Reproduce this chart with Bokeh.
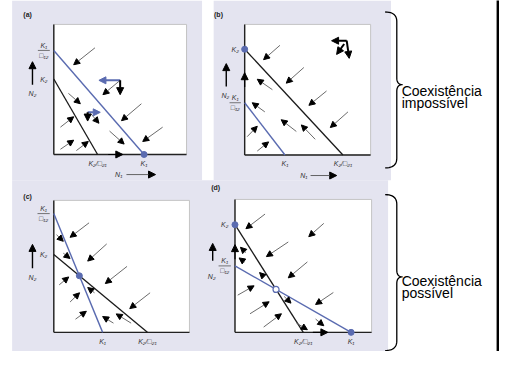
import numpy as np
from bokeh.plotting import figure
from bokeh.models import Range1d, ColumnDataSource, Arrow, NormalHead
from bokeh.embed import file_html
from bokeh.resources import INLINE
from bokeh.core.properties import value

# ---------------- data (axis units 0-100 in every panel) ----------------
PANELS = ["a", "b", "c", "d"]
K1_over_a12 = [80, 40, 90, 50]   # N1 isocline, y intercept
K1 = [68, 32, 36, 85]            # N1 isocline, x intercept
K2 = [58, 81, 59, 81]            # N2 isocline, y intercept
K2_over_a21 = [33, 78, 69, 50]   # N2 isocline, x intercept

# trajectory arrows (x0, y0, x1, y1)
field_a = [(31, 82, 15, 69), (11, 47, 20, 39), (66, 39, 51, 26), (5, 21, 15, 29),
           (82, 21, 67, 10), (42, 18, 53, 8), (5, 4, 15, 11), (17, 3, 26, 10),
           (50, 57, 37, 46), (27.7, 31.6, 34, 24)]
field_b = [(28, 84, 15, 73), (47, 67, 33, 55), (65, 49, 51, 38), (82, 33, 68, 21),
           (22, 50, 10, 58), (16, 33, 6, 40), (41, 18, 29, 27), (56, 12, 45, 23),
           (2, 14, 10, 22), (10, 3, 19, 10)]
field_c = [(26, 83, 12, 72), (39, 67, 25, 54), (54, 50, 38, 37), (71, 30, 56, 18),
           (2, 74, 7, 69), (7, 60, 12, 56), (4, 36, 11, 42), (12, 23, 19, 30),
           (30, 30, 25, 34), (16, 10, 24, 16), (44, 7, 36, 12), (57, 7, 46, 14)]
field_d = [(22, 89, 8, 78), (65, 82, 54, 72), (39, 68, 23, 57), (53, 53, 39, 41),
           (72, 30, 59, 21), (8, 60, 4, 64), (7, 53, 3, 56), (21, 42, 18, 45),
           (2, 28, 14, 35), (11, 14, 25, 23), (21, 4, 34, 14), (36, 27, 41, 22),
           (45, 7, 53, 2), (59, 10, 65, 5)]
FIELDS = [field_a, field_b, field_c, field_d]
# arrowheads lying on the axes
axis_heads = {"a": [(41, 0, 52, 0)], "b": [(0, 52, 0, 63)], "c": [],
              "d": [(0, 55, 0, 66), (57, 0, 68, 0)]}
# vector decompositions: blue (dN1) and black (dN2) components
blue_comp = {"a": [(50, 57, 34, 57), (25.5, 32.4, 35, 32.4)]}
black_comp = {"a": [(50, 57, 50, 46), (25.5, 32.4, 25.5, 25.7)],
              "b": [(81, 87.5, 69, 87.5), (81, 87.5, 83, 74), (79, 85, 73, 77)]}

LABELS = ["(a)", "(b)", "(c)", "(d)"]
GROUP_TEXT = [["Coexistência", "impossível"], ["Coexistência", "possível"]]

# ---------------- layout (reference canvas 515 x 367) ----------------
REF_W, REF_H = 515, 367
W, H = 499, 351
BOX = {"a": (55, 192, 25, 161), "b": (252, 382, 25, 161.5),
       "c": (55, 195, 209, 347), "d": (242, 383, 208, 347)}
LABEL_POS = {"a": (28, 15), "b": (225, 15), "c": (28, 205), "d": (222, 196)}
LAV = "#e4e4f0"
BLUE = "#5a6bb0"
FONT = value("Liberation Sans")

p = figure(width=W, height=H, x_range=Range1d(0, REF_W), y_range=Range1d(REF_H, 0),
           x_axis_type=None, y_axis_type=None, toolbar_location=None,
           output_backend="svg", min_border=0, outline_line_color=None,
           background_fill_color="white", border_fill_color="white")

# lavender backgrounds
p.quad(left=[12, 220, 12], right=[208, 403, 400], top=[0, 0, 188], bottom=[188, 188, 367],
       fill_color=LAV, line_color=None)

# right black bar
p.quad(left=[512], right=[516], top=[-1], bottom=[368], fill_color="black", line_color=None)


def add_arrows(rows, xr, yr, line_color, head_color, lw, hs):
    if not rows:
        return
    r = np.array(rows, dtype=float)
    src = ColumnDataSource(dict(x0=r[:, 0], y0=r[:, 1], x1=r[:, 2], y1=r[:, 3]))
    p.add_layout(Arrow(x_start="x0", y_start="y0", x_end="x1", y_end="y1", source=src,
                       line_color=line_color, line_width=lw,
                       end=NormalHead(size=hs, fill_color=head_color, line_color=head_color),
                       x_range_name=xr, y_range_name=yr))


for i, k in enumerate(PANELS):
    x0, x1, yt, yb = BOX[k]
    sx = (x1 - x0) / 100.0
    sy = (yb - yt) / 100.0
    xr, yr = k + "x", k + "y"
    p.extra_x_ranges[xr] = Range1d(start=-x0 / sx, end=(REF_W - x0) / sx)
    p.extra_y_ranges[yr] = Range1d(start=(yb - REF_H) / sy, end=yb / sy)
    kw = dict(x_range_name=xr, y_range_name=yr)

    # plot box
    p.quad(left=[0], right=[100], bottom=[0], top=[100], fill_color="white",
           line_color="#c4c4c4", line_width=1, **kw)
    p.segment(x0=[0, 0], y0=[0, 0], x1=[0, 100], y1=[100, 0], line_color="#222222",
              line_width=1.4, **kw)

    # isoclines
    p.segment(x0=[0], y0=[K2[i]], x1=[K2_over_a21[i]], y1=[0], line_color="#1a1a1a",
              line_width=1.3, **kw)
    p.segment(x0=[0], y0=[K1_over_a12[i]], x1=[K1[i]], y1=[0], line_color=BLUE,
              line_width=1.4, **kw)

    # field arrows
    add_arrows(FIELDS[i], xr, yr, "#5a5a5a", "black", 0.9, 6)
    add_arrows(axis_heads[k], xr, yr, "black", "black", 1.2, 7)
    add_arrows(blue_comp.get(k, []), xr, yr, BLUE, BLUE, 2, 7)
    add_arrows(black_comp.get(k, []), xr, yr, "black", "black", 2, 7)

    # equilibria
    a1, a2, b1, b2 = K1_over_a12[i], K1[i], K2[i], K2_over_a21[i]
    m1, m2 = -a1 / a2, -b1 / b2
    xi = (b1 - a1) / (m1 - m2)
    yi = a1 + m1 * xi
    stable_x, stable_y, open_x, open_y = [], [], [], []
    if a1 > b1 and a2 > b2:
        stable_x, stable_y = [a2], [0]
    elif b1 > a1 and b2 > a2:
        stable_x, stable_y = [0], [b1]
    elif a1 > b1 and b2 > a2:
        stable_x, stable_y = [xi], [yi]
    else:
        stable_x, stable_y = [a2, 0], [0, b1]
        open_x, open_y = [xi], [yi]
    p.scatter(stable_x, stable_y, size=6, marker="circle", fill_color=BLUE,
              line_color=BLUE, **kw)
    if open_x:
        p.scatter(open_x, open_y, size=6, marker="circle", fill_color="white",
                  line_color=BLUE, line_width=1.2, **kw)

    # tick labels
    tk = dict(text_font=FONT, text_font_size="7px", text_font_style="italic",
              text_color="#333333", **kw)
    lx = -7.5
    p.text(x=[lx], y=[a1], text=["K₁"], text_align="center", text_baseline="middle",
           y_offset=-5, **tk)
    p.text(x=[lx], y=[a1], text=["□₁₂"], text_align="center", text_baseline="middle",
           y_offset=5, **tk)
    p.segment(x0=[lx - 4.5], y0=[a1], x1=[lx + 4.5], y1=[a1], line_color="#555555",
              line_width=0.8, **kw)
    p.text(x=[lx], y=[b1], text=["K₂"], text_align="center", text_baseline="middle", **tk)
    p.text(x=[a2, b2], y=[0, 0], text=["K₁", "K₂/□₂₁"], text_align="center",
           text_baseline="middle", y_offset=9, **tk)

    # panel label
    lxp, lyp = LABEL_POS[k]
    p.text(x=[lxp], y=[lyp], text=[LABELS[i]], text_font=FONT, text_font_size="7px",
           text_font_style="bold", text_color="#222222", text_align="center",
           text_baseline="middle")

# axis titles with arrows (reference canvas coordinates)
n2_x = [33, 232, 33, 218]
n2_y = [97, 99, 290, 289]
p.text(x=n2_x, y=n2_y, text=["N₂"] * 4, text_font=FONT, text_font_size="7px",
       text_font_style="italic", text_color="#333333", text_align="center",
       text_baseline="middle")
add_arrows([(33, 88, 33, 64), (233, 90, 233, 66), (33, 280, 33, 255), (219, 272, 219, 254)],
           "default", "default", "black", "black", 1.4, 7)
p.text(x=[122, 313], y=[182, 183], text=["N₁", "N₁"], text_font=FONT, text_font_size="7px",
       text_font_style="italic", text_color="#333333", text_align="center",
       text_baseline="middle")
add_arrows([(130, 182, 160, 182), (320, 183, 347, 183)], "default", "default",
           "#555555", "black", 0.9, 7)


# braces
def brace(x, top, mid, bottom):
    t = np.linspace(0, 1, 12)

    def q(p0, c, p1):
        return [(1 - t) ** 2 * p0[j] + 2 * (1 - t) * t * c[j] + t ** 2 * p1[j] for j in (0, 1)]
    segs = [q((x - 12, top), (x, top), (x, top + 10)),
            [np.array([x, x]), np.array([top + 10, mid - 7])],
            q((x, mid - 7), (x, mid), (x + 6, mid)),
            q((x + 6, mid), (x, mid), (x, mid + 7)),
            [np.array([x, x]), np.array([mid + 7, bottom - 10])],
            q((x, bottom - 10), (x, bottom), (x - 12, bottom))]
    xs = np.concatenate([s[0] for s in segs])
    ys = np.concatenate([s[1] for s in segs])
    return xs, ys


for (top, mid, bottom) in [(12, 88, 175), (203, 289, 366)]:
    bx, by = brace(409, top, mid, bottom)
    p.line(bx, by, line_color="black", line_width=1.3)

p.text(x=[414, 414], y=[94.5, 107], text=GROUP_TEXT[0], text_font=FONT,
       text_font_size="14px", text_color="black", text_baseline="alphabetic")
p.text(x=[414, 414], y=[293, 306], text=GROUP_TEXT[1], text_font=FONT,
       text_font_size="14px", text_color="black", text_baseline="alphabetic")

open("out.html", "w").write(file_html(p, INLINE))
